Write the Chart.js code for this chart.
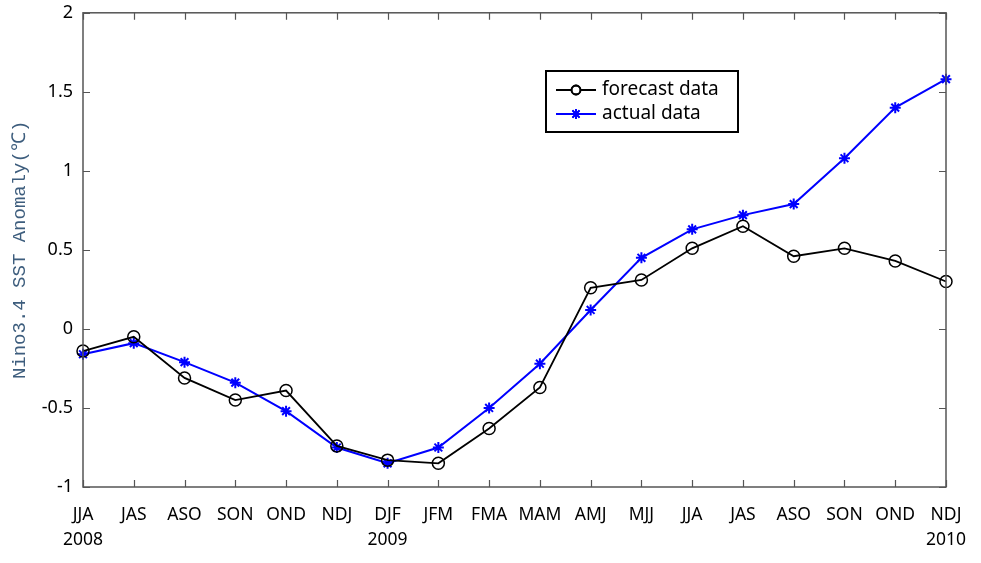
<!DOCTYPE html>
<html>
<head>
<meta charset="utf-8">
<script src="https://cdn.jsdelivr.net/npm/chart.js@4.4.1/dist/chart.umd.min.js"></script>
<style>
  html, body { margin: 0; padding: 0; background: #ffffff; }
  #wrap { width: 981px; height: 563px; position: relative; }
</style>
</head>
<body>
<div id="wrap"><canvas id="c" width="981" height="563"></canvas></div>
<script>
const categories = ['JJA','JAS','ASO','SON','OND','NDJ','DJF','JFM','FMA','MAM','AMJ','MJJ','JJA','JAS','ASO','SON','OND','NDJ'];
const yearLabels = ['2008','','','','','','2009','','','','','','','','','','','2010'];
const forecastData = [-0.14,-0.05,-0.31,-0.45,-0.39,-0.74,-0.83,-0.85,-0.63,-0.37,0.26,0.31,0.51,0.65,0.46,0.51,0.43,0.30];
const actualData = [-0.16,-0.09,-0.21,-0.34,-0.52,-0.75,-0.85,-0.75,-0.50,-0.22,0.12,0.45,0.63,0.72,0.79,1.08,1.40,1.58];
const yTicks = [-1,-0.5,0,0.5,1,1.5,2];

const FONT = '"Noto Sans", "Open Sans", sans-serif';

const framePlugin = {
  id: 'frame',
  afterDatasetsDraw(chart) {
    const ctx = chart.ctx, a = chart.chartArea;
    const xs = chart.scales.x, ys = chart.scales.y;
    ctx.save();
    ctx.strokeStyle = '#555555';
    ctx.lineWidth = 1.5;
    ctx.strokeRect(a.left, a.top, a.right - a.left, a.bottom - a.top);
    ctx.lineWidth = 1.2;
    ctx.beginPath();
    const L = 7;
    for (let i = 0; i < categories.length; i++) {
      const x = Math.round(xs.getPixelForValue(i)) + 0.5;
      ctx.moveTo(x, a.bottom); ctx.lineTo(x, a.bottom - L);
      ctx.moveTo(x, a.top); ctx.lineTo(x, a.top + L);
    }
    yTicks.forEach(v => {
      const y = Math.round(ys.getPixelForValue(v)) + 0.5;
      ctx.moveTo(a.left, y); ctx.lineTo(a.left + L, y);
      ctx.moveTo(a.right, y); ctx.lineTo(a.right - L, y);
    });
    ctx.stroke();
    ctx.restore();
  }
};

const legendPlugin = {
  id: 'boxLegend',
  afterDraw(chart) {
    const ctx = chart.ctx;
    const bx = 546, by = 71, bw = 192, bh = 61;
    ctx.save();
    ctx.fillStyle = '#ffffff';
    ctx.fillRect(bx, by, bw, bh);
    ctx.strokeStyle = '#000000';
    ctx.lineWidth = 2;
    ctx.strokeRect(bx, by, bw, bh);
    const items = [
      {label: 'forecast data', color: '#000000', style: 'circle', y: by + 19},
      {label: 'actual data', color: '#0000ff', style: 'star', y: by + 43}
    ];
    items.forEach(it => {
      ctx.strokeStyle = it.color;
      ctx.lineWidth = 1.8;
      ctx.beginPath();
      ctx.moveTo(bx + 10, it.y); ctx.lineTo(bx + 50, it.y);
      ctx.stroke();
      Chart.helpers.drawPoint(ctx, {pointStyle: it.style, radius: it.style === 'circle' ? 4.5 : 5, borderWidth: 1.8, rotation: 0}, bx + 30, it.y);
      ctx.stroke();
      ctx.fillStyle = '#000000';
      ctx.font = '19px ' + FONT;
      ctx.textAlign = 'left';
      ctx.textBaseline = 'middle';
      ctx.fillText(it.label, bx + 56, it.y);
    });
    ctx.restore();
  }
};

new Chart(document.getElementById('c'), {
  type: 'line',
  data: {
    labels: categories.map((c, i) => [c, yearLabels[i]]),
    datasets: [
      {
        label: 'forecast data',
        data: forecastData,
        borderColor: '#000000',
        borderWidth: 1.8,
        pointStyle: 'circle',
        pointRadius: 6,
        pointBorderWidth: 1.5,
        pointBorderColor: '#000000',
        pointBackgroundColor: 'rgba(0,0,0,0)',
        tension: 0,
        clip: false
      },
      {
        label: 'actual data',
        data: actualData,
        borderColor: '#0000ff',
        borderWidth: 2,
        pointStyle: 'star',
        pointRadius: 5.5,
        pointBorderWidth: 2,
        pointBorderColor: '#0000ff',
        pointBackgroundColor: '#0000ff',
        tension: 0,
        clip: false
      }
    ]
  },
  options: {
    responsive: false,
    animation: false,
    devicePixelRatio: 1,
    layout: { padding: { top: 0, right: 35, left: 0, bottom: 0 } },
    plugins: { legend: { display: false }, tooltip: { enabled: false } },
    scales: {
      x: {
        type: 'category',
        offset: false,
        grid: { display: false },
        border: { display: false },
        ticks: {
          color: '#000000',
          font: { family: FONT, size: 17.5, lineHeight: 1.42 },
          padding: 8,
          maxRotation: 0,
          autoSkip: false
        },
        afterFit(scale) { scale.height = 76; }
      },
      y: {
        min: -1,
        max: 2,
        afterBuildTicks(scale) { scale.ticks = yTicks.map(v => ({ value: v })); },
        grid: { display: false },
        border: { display: false },
        ticks: {
          color: '#000000',
          font: { family: FONT, size: 18, lineHeight: 1.2 },
          padding: 2,
          callback: v => String(v)
        },
        title: {
          display: true,
          text: 'Nino3.4 SST Anomaly(℃)',
          color: '#3d5d7d',
          font: { family: '"Liberation Mono", monospace', size: 19 },
          padding: { top: 9, bottom: 0 }
        },
        afterFit(scale) { scale.width = 83; }
      }
    }
  },
  plugins: [framePlugin, legendPlugin]
});
</script>
</body>
</html>
